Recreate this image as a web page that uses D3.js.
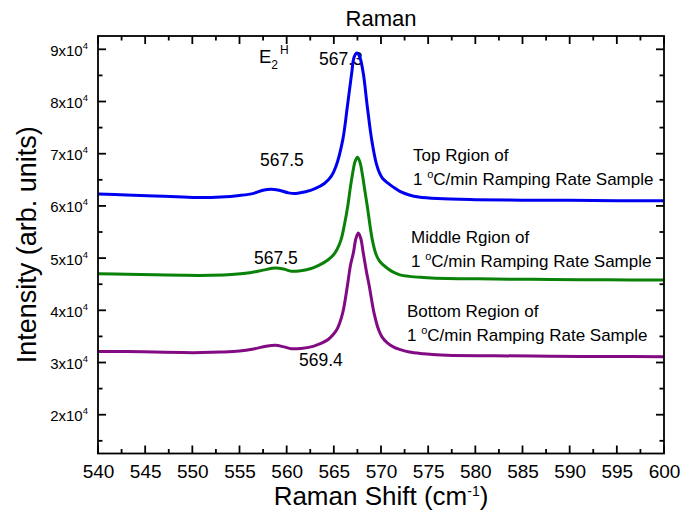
<!DOCTYPE html>
<html lang="en">
<head>
	<meta charset="utf-8">
	<title>Raman</title>
	<script src="https://d3js.org/d3.v7.min.js" charset="utf-8"></script>
	<style>
		body { margin: 0; background: #fff; }
		svg { font-family: "Liberation Sans", Arial, sans-serif; }
	</style>
</head>
<body>
	<script>
		// Raman shift (cm-1) and intensity (x10^4)
		var topShift = [540, 543, 546, 549, 551, 553, 555, 556.5, 557.5, 558.3, 559.2, 560.2, 561, 562, 563, 564, 564.7, 565.23, 565.94, 566.43, 566.89, 567.15, 567.45, 567.75, 568.12, 568.55, 569.02, 569.55, 569.85, 570.2, 570.7, 571.3, 572, 573, 574, 576, 580, 585, 590, 595, 600];
		var topIntensity = [6.23, 6.21, 6.19, 6.17, 6.16, 6.17, 6.20, 6.24, 6.30, 6.32, 6.30, 6.25, 6.24, 6.27, 6.33, 6.43, 6.56, 6.76, 7.26, 7.90, 8.54, 8.85, 8.93, 8.85, 8.54, 7.90, 7.26, 6.78, 6.63, 6.52, 6.44, 6.36, 6.28, 6.21, 6.17, 6.14, 6.12, 6.11, 6.11, 6.10, 6.10];

		var middleShift = [540, 543, 546, 549, 552, 554.5, 556.1, 557.5, 558.8, 559.7, 560.5, 561.5, 562.6, 563.5, 564.4, 564.95, 565.35, 565.76, 566.1, 566.47, 566.75, 567.0, 567.25, 567.5, 567.75, 568.0, 568.3, 568.55, 569.08, 569.5, 569.9, 570.5, 571.2, 572, 573, 574.5, 577, 582, 588, 594, 600];
		var middleIntensity = [4.70, 4.69, 4.68, 4.67, 4.67, 4.69, 4.72, 4.77, 4.81, 4.79, 4.75, 4.76, 4.80, 4.87, 4.97, 5.06, 5.17, 5.35, 5.62, 5.99, 6.35, 6.63, 6.85, 6.93, 6.85, 6.63, 6.28, 5.99, 5.35, 5.06, 4.93, 4.83, 4.74, 4.68, 4.65, 4.63, 4.61, 4.60, 4.59, 4.585, 4.58];

		var bottomShift = [540, 543, 546, 549, 551, 553, 555, 556.5, 557.8, 558.8, 559.7, 560.5, 561.5, 562.8, 563.7, 564.4, 565.0, 565.4, 565.94, 566.43, 566.75, 567.07, 567.35, 567.6, 567.85, 568.12, 568.45, 568.76, 569.26, 569.72, 570.1, 570.7, 571.4, 572, 573, 574.5, 577, 582, 588, 594, 600];
		var bottomIntensity = [3.21, 3.21, 3.20, 3.19, 3.19, 3.20, 3.22, 3.26, 3.31, 3.33, 3.30, 3.265, 3.27, 3.31, 3.37, 3.44, 3.55, 3.66, 3.95, 4.46, 4.85, 5.10, 5.38, 5.48, 5.38, 5.10, 4.75, 4.46, 3.95, 3.64, 3.49, 3.37, 3.29, 3.25, 3.20, 3.17, 3.14, 3.13, 3.12, 3.115, 3.11];

		var xTicks = [540, 545, 550, 555, 560, 565, 570, 575, 580, 585, 590, 595, 600];
		var xMinorTicks = [542.5, 547.5, 552.5, 557.5, 562.5, 567.5, 572.5, 577.5, 582.5, 587.5, 592.5, 597.5];
		var yTicks = [2, 3, 4, 5, 6, 7, 8, 9];  // x10^4
		var yMinorTicks = [1.5, 2.5, 3.5, 4.5, 5.5, 6.5, 7.5, 8.5];

		var svgWidth = 681,
			svgHeight = 510,
			margin = {top: 36, right: 17, bottom: 56.5, left: 98},
			width = svgWidth - margin.left - margin.right,
			height = svgHeight - margin.top - margin.bottom,
			svg = d3.select("body")
				.append("svg")
				.attr("width", svgWidth)
				.attr("height", svgHeight),
			g = svg.append("g").attr("transform", "translate(" + margin.left + "," + margin.top + ")");

		var x = d3.scaleLinear().domain([540, 600]).range([0, width]);
		var y = d3.scaleLinear().domain([1.257, 9.255]).range([height, 0]);

		var series = [
			{shift: topShift, intensity: topIntensity, color: "#0000f0"},
			{shift: middleShift, intensity: middleIntensity, color: "#0a820a"},
			{shift: bottomShift, intensity: bottomIntensity, color: "#820a82"}
		];

		// annotations go under the curves (the blue peak covers part of "567.3")
		var notes = g.append("g").attr("fill", "#000").attr("font-size", 17.5);
		function note(txt, px, py) {
			notes.append("text").attr("x", px - margin.left).attr("y", py - margin.top).text(txt);
		}
		note("567.3", 319, 65);
		note("567.5", 260, 166);
		note("567.5", 254, 264);
		note("569.4", 299, 366);

		var e2 = notes.append("text").attr("x", 259 - margin.left).attr("y", 63 - margin.top).attr("font-size", 18.5);
		e2.append("tspan").text("E");
		e2.append("tspan").attr("font-size", 12).attr("dy", 6).text("2");
		e2.append("tspan").attr("font-size", 12).attr("dx", 2).attr("dy", -15).text("H");

		function regionLabel(first, px, py) {
			notes.append("text").attr("x", px - margin.left).attr("y", py - margin.top).attr("font-size", 17).text(first);
			var t2 = notes.append("text").attr("x", px - margin.left).attr("y", py + 24 - margin.top).attr("font-size", 17);
			t2.append("tspan").text("1 ");
			t2.append("tspan").attr("font-size", 11).attr("dy", -7).text("o");
			t2.append("tspan").attr("dy", 7).text("C/min Ramping Rate Sample");
		}
		regionLabel("Top Rgion of", 413, 161);
		regionLabel("Middle Rgion of", 411, 243);
		regionLabel("Bottom Region of", 407, 317);

		var line = d3.line()
			.x(function(d) { return x(d[0]); })
			.y(function(d) { return y(d[1]); })
			.curve(d3.curveCatmullRom.alpha(0.5));

		g.append("g")
			.selectAll("path")
			.data(series)
			.enter().append("path")
			.attr("fill", "none")
			.attr("stroke", function(d) { return d.color; })
			.attr("stroke-width", 3)
			.attr("stroke-linejoin", "round")
			.attr("d", function(d) { return line(d3.zip(d.shift, d.intensity)); });

		// tick labels from the axes
		g.append("g")
			.attr("class", "axis xaxis")
			.attr("transform", "translate(0," + height + ")")
			.call(d3.axisBottom(x).tickValues(xTicks).tickSize(0).tickPadding(11).tickFormat(d3.format("d")));

		var yAxis = g.append("g")
			.attr("class", "axis yaxis")
			.call(d3.axisLeft(y).tickValues(yTicks).tickSize(0).tickPadding(10));

		// "9x10^4" style labels
		yAxis.selectAll(".tick text")
			.attr("dy", "0.4em")
			.each(function(d) {
				var t = d3.select(this).text("");
				t.append("tspan").text(d + "x10");
				t.append("tspan").attr("font-size", 9.5).attr("dy", -7).text("4");
			});

		g.selectAll(".axis .domain").remove();
		g.selectAll(".axis line").remove();
		g.selectAll(".axis text").attr("fill", "#000").attr("font-family", "Liberation Sans, Arial, sans-serif");
		g.select(".xaxis").selectAll("text").attr("font-size", 19);
		yAxis.selectAll("text").attr("font-size", 15);

		// inward ticks on all four sides, major 8px and minor 4.5px
		var ticks = g.append("g").attr("class", "ticks");
		function tickMark(x1, y1, x2, y2) {
			ticks.append("line")
				.attr("x1", x1).attr("y1", y1).attr("x2", x2).attr("y2", y2)
				.attr("stroke", "#000")
				.attr("stroke-width", 1.8);
		}
		function xTickMarks(vals, len) {
			vals.forEach(function(v) {
				tickMark(x(v), height, x(v), height - len);
				tickMark(x(v), 0, x(v), len);
			});
		}
		function yTickMarks(vals, len) {
			vals.forEach(function(v) {
				tickMark(0, y(v), len, y(v));
				tickMark(width, y(v), width - len, y(v));
			});
		}
		xTickMarks(xTicks, 8);
		xTickMarks(xMinorTicks, 4.5);
		yTickMarks(yTicks, 8);
		yTickMarks(yMinorTicks, 4.5);

		g.append("rect")
			.attr("width", width)
			.attr("height", height)
			.attr("fill", "none")
			.attr("stroke", "#000")
			.attr("stroke-width", 1.8);

		svg.append("text")
			.attr("x", margin.left + width / 2)
			.attr("y", 26)
			.attr("text-anchor", "middle")
			.attr("font-size", 22)
			.text("Raman");

		var xTitle = svg.append("text")
			.attr("x", margin.left + width / 2)
			.attr("y", 505)
			.attr("text-anchor", "middle")
			.attr("font-size", 26);
		xTitle.append("tspan").text("Raman Shift (cm");
		xTitle.append("tspan").attr("font-size", 14).attr("dy", -9).text("-1");
		xTitle.append("tspan").attr("dy", 9).text(")");

		svg.append("text")
			.attr("transform", "translate(36," + (margin.top + height / 2) + ") rotate(-90)")
			.attr("text-anchor", "middle")
			.attr("font-size", 27)
			.text("Intensity (arb. units)");
	</script>
</body>
</html>
